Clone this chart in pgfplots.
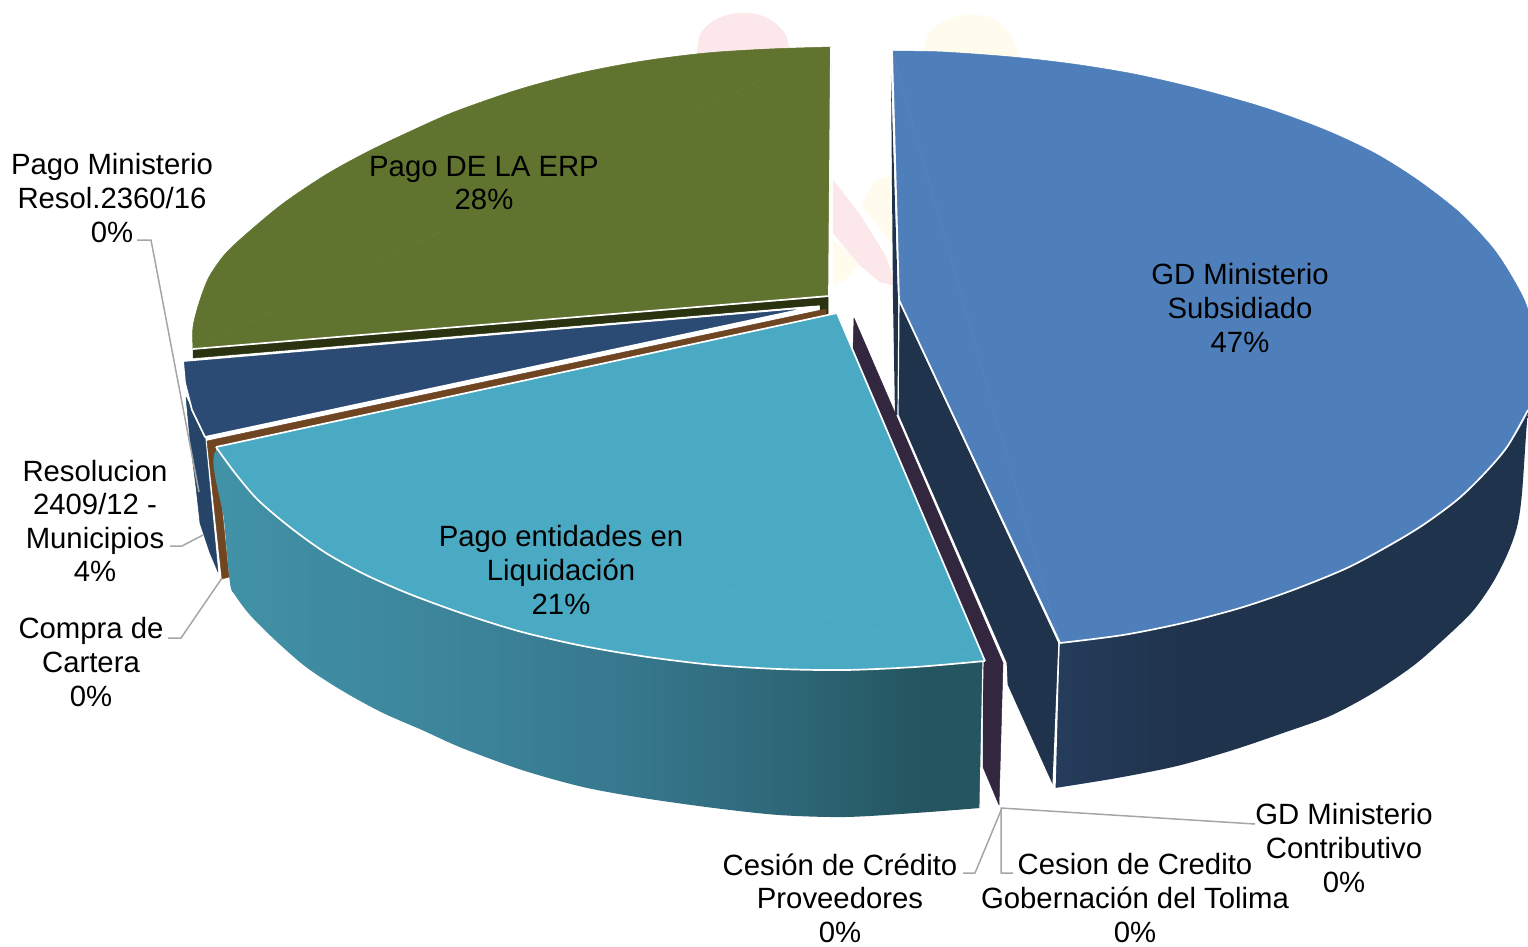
\documentclass[border=0pt]{standalone}
\usepackage{pgfplots}
\pgfplotsset{compat=1.18}
\usepackage{fontspec}
\setmainfont{Liberation Sans}
\definecolor{cblue}{HTML}{4E7FBA}
\definecolor{cblueside}{HTML}{1F334C}
\definecolor{cbluesideL}{HTML}{253C5C}
\definecolor{colive}{HTML}{60732F}
\definecolor{coliveD}{HTML}{29330F}
\definecolor{cnavy}{HTML}{2B4B74}
\definecolor{cnavyS}{HTML}{264467}
\definecolor{cteal}{HTML}{4AA9C3}
\definecolor{cbrown}{HTML}{6F4522}
\definecolor{cpurple}{HTML}{33263F}
\definecolor{cgrey}{HTML}{A6A6A6}
\definecolor{wpink}{HTML}{FCE8EA}
\definecolor{wyel}{HTML}{FFFCEE}
\definecolor{tA}{HTML}{4192A8}
\definecolor{tB}{HTML}{3D879D}
\definecolor{tC}{HTML}{37788E}
\definecolor{tD}{HTML}{2D6676}
\definecolor{tE}{HTML}{245560}
\pgfdeclarehorizontalshading{tealside}{100bp}{color(0bp)=(tA); color(25bp)=(tA); color(38bp)=(tB); color(52bp)=(tC); color(63bp)=(tD); color(71bp)=(tE); color(100bp)=(tE)}
\pgfdeclarehorizontalshading{blueside}{100bp}{color(0bp)=(cbluesideL); color(25bp)=(cbluesideL); color(38bp)=(cblueside); color(100bp)=(cblueside)}
\pgfplotsset{
  slice/.style={fill=#1,draw=white,line width=1.7pt,line join=round},
  plain/.style={fill=#1,draw=#1,line width=0.5pt,line join=round},
  curve/.style={fill=#1,draw=#1,line width=0.5pt,smooth},
  wline/.style={draw=white,line width=1.7pt,line join=round},
  warc/.style={draw=white,line width=1.7pt,smooth},
  leader/.style={draw=cgrey,line width=1.5pt,line join=round},
}
\newcommand{\lbl}[3]{\node[align=center,inner sep=0pt,font=\fontsize{29.3}{33.6}\selectfont,text=black] at (axis cs:#1,#2) {#3};}
\begin{document}
\begin{tikzpicture}
\begin{axis}[
  width=1528pt,height=946pt,scale only axis,
  xmin=0,xmax=1528,ymin=0,ymax=946,y dir=reverse,
  axis lines=none,
]
% faint watermark
\addplot[curve=wpink] coordinates {(697,55)(700,35)(712,22)(728,15)(745,13)(762,16)(776,24)(786,36)(790,55)};
\addplot[curve=wyel] coordinates {(923,60)(928,35)(942,22)(960,16)(978,15)(995,20)(1008,32)(1017,50)(1018,70)};
\addplot[plain=wyel] coordinates {(893,175)(875,180)(862,205)(893,245)(893,175)};
\addplot[plain=wyel] coordinates {(833,240)(860,262)(845,280)(833,285)(833,240)};
\addplot[plain=wpink] coordinates {(833,180)(860,215)(885,255)(893,277)(893,285)(880,282)(860,265)(833,233)(833,180)};
% blue slice
\addplot[fill=cblueside,draw=none] coordinates {(891,75)(893,300)(895,415)(898,415)(898,300)(891,75)};
\addplot[shading=blueside,draw=none,smooth] coordinates {(1055,788)(1117,778)(1177,766)(1233,750)(1283,733)(1330,716)(1373,693)(1413,666)(1443,640)(1472,612)(1492,584)(1507,555)(1517,527)(1522,493)(1528,410)(1536,360)(1450,350)(1300,450)(1200,550)(1059,643)};
\addplot[slice=cblueside,line width=1.2pt] coordinates {(899,300)(1059,643)(1053,787)(1007,685)(1006,663)(898,415)(899,300)};
\addplot[draw=white,line width=1.2pt] coordinates {(1059,643)(1055,788)};
\addplot[curve=cblue] coordinates {(892,51)(943,52)(1012,57)(1073,64)(1134,74)(1195,88)(1256,105)(1297,119)(1337,135)(1378,155)(1419,181)(1460,213)(1492,247)(1512,277)(1528,310)(1536,360)(1528,410)(1507,447)(1483,475)(1457,500)(1423,525)(1390,545)(1347,568)(1293,590)(1240,608)(1183,623)(1123,635)(1060,643)};
\addplot[plain=cblue] coordinates {(892,51)(1060,643)(899,300)(892,51)};
\addplot[warc] coordinates {(1528,410)(1507,447)(1483,475)(1457,500)(1423,525)(1390,545)(1347,568)(1293,590)(1240,608)(1183,623)(1123,635)(1060,643)};
\addplot[wline] coordinates {(892,51)(899,300)(1060,643)};
% olive slice
\addplot[plain=coliveD] coordinates {(193,349)(828,297)(828,315)(820,315)(820,305)(193,358)(193,349)};
\addplot[curve=colive] coordinates {(831,47)(769,49)(706,53)(643,61)(580,73)(517,90)(454,112)(411,131)(369,151)(327,174)(285,202)(252,229)(226,253)(209,277)(199,303)(193,327)(193,349)};
\addplot[plain=colive] coordinates {(831,47)(193,349)(829,296)(831,47)};
\addplot[wline] coordinates {(831,47)(829,296)(193,349)};
% navy slice
\addplot[plain=cnavyS] coordinates {(186,397)(205,437)(218,572)(210,553)(200,523)(196,487)(190,440)(186,397)};
\addplot[slice=cnavy] coordinates {(183,361)(185,383)(192,410)(205,437)(813,307)(183,361)};
% purple sliver
\addplot[plain=cpurple] coordinates {(854,318)(1003,663)(999,805)(983,767)(983,662)(853,350)(854,318)};
% brown sliver
\addplot[plain=cbrown] coordinates {(207,441)(826,309)(826,316)(216,449)(229,577)(222,579)(207,441)};
% teal slice
\addplot[shading=tealside,draw=none,smooth] coordinates {(980,808)(915,813)(845,817)(779,815)(714,808)(643,798)(583,787)(522,770)(462,748)(422,730)(381,712)(341,690)(306,667)(275,640)(250,615)(235,595)(230,583)(224,520)(217,450)(300,470)(600,560)(800,640)(983,661)};
\addplot[draw=white,line width=1.2pt] coordinates {(983,661)(980,808)};
\addplot[curve=cteal] coordinates {(985,661)(915,667)(845,670)(779,669)(714,665)(648,657)(583,646)(522,632)(467,615)(412,595)(366,575)(326,553)(291,528)(258,500)(235,473)(216,447)};
\addplot[plain=cteal] coordinates {(985,661)(216,447)(837,313)(985,661)};
\addplot[warc] coordinates {(985,661)(915,667)(845,670)(779,669)(714,665)(648,657)(583,646)(522,632)(467,615)(412,595)(366,575)(326,553)(291,528)(258,500)(235,473)(216,447)};
\addplot[wline] coordinates {(216,447)(837,313)(985,661)};
% leaders
\addplot[leader] coordinates {(137,240)(151,240)(199,492)};
\addplot[leader] coordinates {(170,546)(182,546)(203,535)};
\addplot[leader] coordinates {(168,638)(181,638)(222,578)};
\addplot[leader] coordinates {(963,873)(975,873)(1002,808)};
\addplot[leader] coordinates {(1013,873)(1001,873)(1001,808)(1255,824)};
% labels
\lbl{112}{198}{Pago Ministerio\\Resol.2360/16\\0\%}
\lbl{484}{183}{Pago DE LA ERP\\28\%}
\lbl{1240}{308}{GD Ministerio\\Subsidiado\\47\%}
\lbl{561}{570}{Pago entidades en\\Liquidación\\21\%}
\lbl{95}{521}{Resolucion\\2409/12 -\\Municipios\\4\%}
\lbl{91}{662}{Compra de\\Cartera\\0\%}
\lbl{840}{898}{Cesión de Crédito\\Proveedores\\0\%}
\lbl{1135}{898}{Cesion de Credito\\Gobernación del Tolima\\0\%}
\lbl{1344}{848}{GD Ministerio\\Contributivo\\0\%}
\end{axis}
\path[use as bounding box] (current axis.south west) rectangle (current axis.north east);
\end{tikzpicture}
\end{document}
